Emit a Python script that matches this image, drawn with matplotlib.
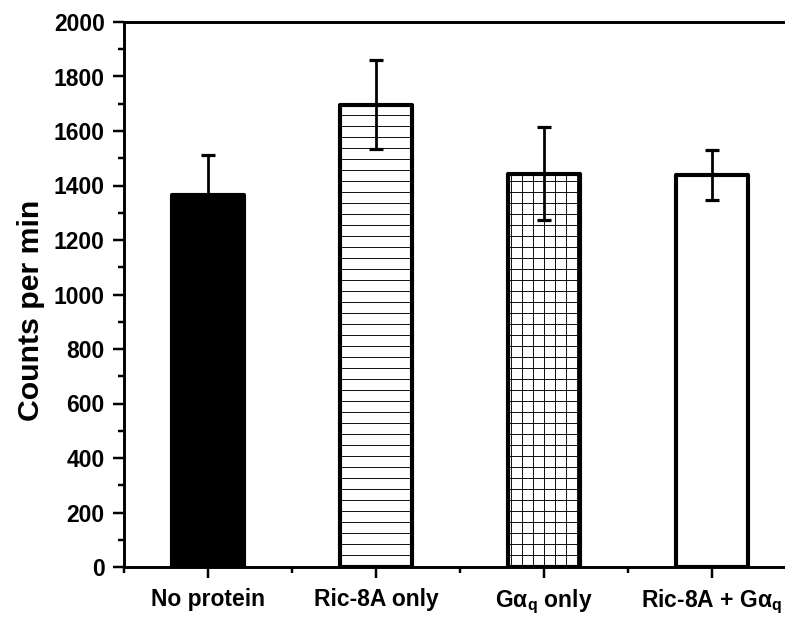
import matplotlib

matplotlib.use("Agg")
import matplotlib.pyplot as plt
from matplotlib.ticker import MultipleLocator, FixedLocator

# data
labels = ["No protein", "Ric-8A only", r"G$\mathregular{\alpha_q}$ only",
          r"Ric-8A + G$\mathregular{\alpha_q}$"]
counts = [1365, 1697, 1443, 1440]
errors = [147, 162, 170, 92]
fills = ["black", "white", "white", "white"]
hatches = [None, "-", "+", None]

DPI = 66
plt.rcParams["font.family"] = ["Liberation Sans", "DejaVu Sans"]
plt.rcParams["font.weight"] = "bold"
plt.rcParams["mathtext.default"] = "regular"
plt.rcParams["hatch.linewidth"] = 1.0

fig = plt.figure(figsize=(785 / DPI, 617 / DPI), dpi=DPI)
ax = fig.add_axes([124 / 785, 50 / 617, 672 / 785, 545 / 617])

x = list(range(1, len(counts) + 1))
bars = ax.bar(x, counts, width=0.43, color=fills, edgecolor="black",
              linewidth=4.5, joinstyle="round", zorder=2)
for b, h in zip(bars, hatches):
    if h:
        b.set_hatch(h)

ax.errorbar(x, counts, yerr=errors, fmt="none", ecolor="black",
            elinewidth=3, capsize=7.5, capthick=3.5, zorder=3)

ax.set_xlim(0.5, 4.5)
ax.set_ylim(0, 2000)
ax.yaxis.set_major_locator(MultipleLocator(200))
ax.yaxis.set_minor_locator(MultipleLocator(100))
ax.xaxis.set_major_locator(FixedLocator(x))
ax.xaxis.set_minor_locator(FixedLocator([0.5, 1.5, 2.5, 3.5, 4.5]))
ax.set_xticklabels(labels)

ax.tick_params(which="major", direction="out", length=12, width=2.7,
               labelsize=25, pad=9)
ax.tick_params(axis="x", which="major", labelsize=25, pad=11)
ax.tick_params(which="minor", direction="out", length=6.5, width=2.7)

for s in ax.spines.values():
    s.set_linewidth(3.2)

ax.set_ylabel("Counts per min", fontsize=33, fontweight="bold")
ax.yaxis.set_label_coords(-0.118, 0.47)

fig.savefig("out.png", dpi=DPI)
